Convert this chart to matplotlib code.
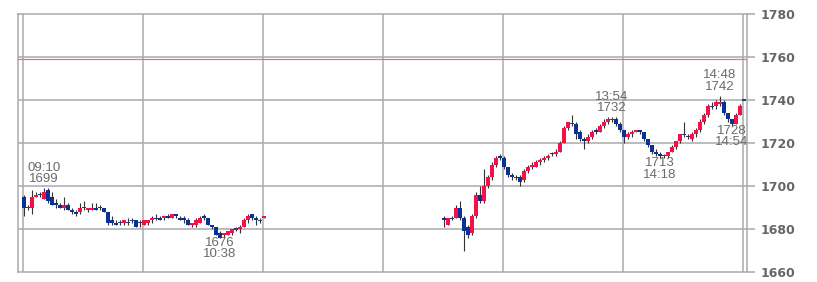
import numpy as np
import matplotlib
matplotlib.use("Agg")
import matplotlib.pyplot as plt

# 2-minute bars, morning session 09:00-11:00 and afternoon 12:30-15:00
am_start, am_bars = "09:00", 61
pm_start, pm_bars = "12:30", 76

am_open = [1695, 1690, 1690, 1695, 1696, 1694, 1698, 1695, 1692, 1691, 1690, 1691, 1689, 1688, 1688, 1690,
           1689, 1689, 1690, 1690, 1690, 1688, 1684, 1683, 1683, 1683, 1683, 1684, 1684, 1683, 1682, 1683,
           1684, 1685, 1685, 1685, 1686, 1685, 1687, 1685, 1685, 1684, 1682, 1682, 1683, 1686, 1685, 1682,
           1681, 1678, 1677, 1677, 1678, 1680, 1680, 1681, 1684, 1687, 1685, 1684, 1685]
am_high = [1696, 1691, 1698, 1697, 1697, 1699, 1699, 1697, 1694, 1692, 1695, 1692, 1690, 1689, 1692, 1693,
           1690, 1692, 1692, 1691, 1690, 1688, 1686, 1684, 1684, 1684, 1685, 1685, 1684, 1684, 1684, 1684,
           1686, 1687, 1686, 1686, 1687, 1687, 1687, 1686, 1686, 1685, 1683, 1685, 1686, 1687, 1685, 1682,
           1681, 1679, 1678, 1679, 1680, 1681, 1682, 1685, 1687, 1687, 1686, 1685, 1686]
am_low = [1686, 1689, 1687, 1695, 1695, 1694, 1692, 1691, 1690, 1690, 1689, 1689, 1687, 1686, 1687, 1689,
          1688, 1689, 1689, 1689, 1688, 1682, 1682, 1682, 1682, 1682, 1682, 1683, 1681, 1681, 1682, 1682,
          1683, 1684, 1684, 1684, 1685, 1685, 1685, 1684, 1683, 1682, 1681, 1681, 1683, 1684, 1682, 1680,
          1677, 1676, 1676, 1677, 1677, 1679, 1678, 1681, 1683, 1684, 1682, 1683, 1685]
am_close = [1690, 1690, 1695, 1696, 1696, 1697, 1693, 1691, 1691, 1690, 1691, 1689, 1688, 1687, 1690, 1690,
            1690, 1690, 1689, 1690, 1688, 1683, 1683, 1682, 1683, 1684, 1683, 1684, 1681, 1683, 1684, 1684,
            1685, 1685, 1684, 1686, 1685, 1687, 1686, 1684, 1684, 1682, 1683, 1684, 1685, 1685, 1682, 1681,
            1677, 1676, 1678, 1679, 1680, 1680, 1681, 1684, 1686, 1685, 1684, 1684, 1686]

pm_open = [1685, 1682, 1685, 1685, 1690, 1685, 1681, 1678, 1686, 1696, 1693, 1700, 1704, 1710, 1714, 1713,
           1709, 1705, 1704, 1704, 1703, 1707, 1709, 1709, 1711, 1712, 1713, 1715, 1715, 1716, 1720, 1727,
           1729, 1729, 1725, 1722, 1721, 1723, 1726, 1725, 1728, 1730, 1731, 1731, 1729, 1726, 1723, 1724,
           1725, 1726, 1725, 1722, 1719, 1716, 1715, 1714, 1714, 1716, 1718, 1721, 1724, 1723, 1722, 1724,
           1726, 1730, 1733, 1737, 1737, 1738, 1739, 1734, 1731, 1729, 1733, 1740]
pm_high = [1686, 1685, 1686, 1691, 1693, 1686, 1682, 1687, 1697, 1700, 1708, 1705, 1711, 1714, 1715, 1714,
           1709, 1706, 1705, 1705, 1708, 1710, 1711, 1712, 1713, 1714, 1715, 1716, 1717, 1721, 1728, 1730,
           1733, 1730, 1726, 1723, 1724, 1726, 1727, 1729, 1731, 1732, 1732, 1732, 1730, 1726, 1725, 1726,
           1726, 1726, 1725, 1722, 1719, 1717, 1716, 1715, 1716, 1719, 1721, 1724, 1730, 1724, 1725, 1727,
           1731, 1734, 1738, 1739, 1740, 1742, 1740, 1734, 1731, 1734, 1738, 1740]
pm_low = [1681, 1682, 1684, 1685, 1684, 1670, 1676, 1677, 1685, 1692, 1692, 1699, 1703, 1709, 1712, 1708,
          1704, 1703, 1703, 1700, 1702, 1706, 1708, 1709, 1710, 1711, 1712, 1714, 1714, 1716, 1720, 1726,
          1728, 1722, 1721, 1717, 1720, 1722, 1724, 1725, 1727, 1729, 1730, 1728, 1725, 1720, 1722, 1723,
          1725, 1724, 1721, 1718, 1715, 1714, 1713, 1713, 1713, 1716, 1717, 1720, 1723, 1722, 1721, 1723,
          1725, 1729, 1732, 1736, 1736, 1737, 1733, 1730, 1728, 1729, 1733, 1740]
pm_close = [1684, 1685, 1685, 1690, 1685, 1679, 1677, 1686, 1696, 1693, 1700, 1704, 1710, 1713, 1713, 1709,
            1705, 1704, 1704, 1702, 1707, 1709, 1710, 1711, 1712, 1713, 1714, 1715, 1716, 1720, 1727, 1730,
            1729, 1724, 1722, 1721, 1723, 1725, 1725, 1728, 1730, 1731, 1731, 1729, 1726, 1723, 1724, 1725,
            1726, 1725, 1722, 1719, 1716, 1715, 1714, 1714, 1716, 1718, 1721, 1724, 1724, 1723, 1724, 1726,
            1730, 1733, 1737, 1737, 1739, 1739, 1734, 1731, 1729, 1733, 1737, 1740]

prev_line = 1759
y_ticks = [1660, 1680, 1700, 1720, 1740, 1760, 1780]
x_grid = ["09:00", "10:00", "11:00", "12:00", "13:00", "14:00", "15:00"]

# (time, price, kind) for the high / low markers
marks = [("09:10", 1699, "high"), ("10:38", 1676, "low"), ("13:54", 1732, "high"),
         ("14:18", 1713, "low"), ("14:48", 1742, "high"), ("14:54", 1728, "low")]

RED = "#f5104a"
BLUE = "#0a3296"
GRID = "#aaaaaa"
TXT = "#6a6a6a"


def tmin(s):
    h, m = s.split(":")
    return (int(h) - 9) * 60 + int(m)


t = np.concatenate([tmin(am_start) + 2 * np.arange(am_bars),
                    tmin(pm_start) + 2 * np.arange(pm_bars)]) + 0.5
o = np.array(am_open + pm_open, float)
h = np.array(am_high + pm_high, float)
l = np.array(am_low + pm_low, float)
c = np.array(am_close + pm_close, float)

W, H = 817, 282
fig = plt.figure(figsize=(W / 100, H / 100), dpi=100)
ax = fig.add_axes([18 / W, 10 / H, 729 / W, 258 / H])
ax.set_xlim(-2.5, 362)
ax.set_ylim(1660, 1780)

for xg in x_grid:
    ax.axvline(tmin(xg), color=GRID, lw=1.1, zorder=1)
for yv in y_ticks[1:-1]:
    ax.axhline(yv, color=GRID, lw=1.1, zorder=1)
ax.axhline(prev_line, color="#f07070", lw=0.9, zorder=2)

# candles
ax.vlines(t, l, h, color="#333333", lw=0.8, zorder=3)
up = c > o
dn = c < o
flat = c == o
ax.bar(t[up], (c - o)[up], bottom=o[up], width=1.9, color=RED, zorder=4, linewidth=0)
ax.bar(t[dn], (o - c)[dn], bottom=c[dn], width=1.9, color=BLUE, zorder=4, linewidth=0)
ax.bar(t[flat], 0.5, bottom=o[flat] - 0.25, width=1.9, color="#24407a", zorder=4, linewidth=0)

for tm, price, kind in marks:
    x = tmin(tm) + 0.5
    if kind == "high":
        ax.annotate(f"{tm}\n{price}", (x, price), xytext=(0, 3), textcoords="offset pixels",
                    ha="center", va="bottom", fontsize=9.5, color=TXT, family="Liberation Sans",
                    linespacing=0.95)
    else:
        ax.annotate(f"{price}\n{tm}", (x, price), xytext=(0, 1), textcoords="offset pixels",
                    ha="center", va="top", fontsize=9.5, color=TXT, family="Liberation Sans",
                    linespacing=0.95)

for s in ax.spines.values():
    s.set_color(GRID)
    s.set_linewidth(1.1)

ax.set_xticks([])
ax.yaxis.tick_right()
ax.set_yticks(y_ticks)
ax.set_yticklabels([str(v) for v in y_ticks], fontweight="bold", fontsize=9,
                   color="#666666", family="DejaVu Sans")
ax.tick_params(axis="y", length=6, width=1.1, color=GRID, pad=4)

fig.savefig("out.png", dpi=100)
